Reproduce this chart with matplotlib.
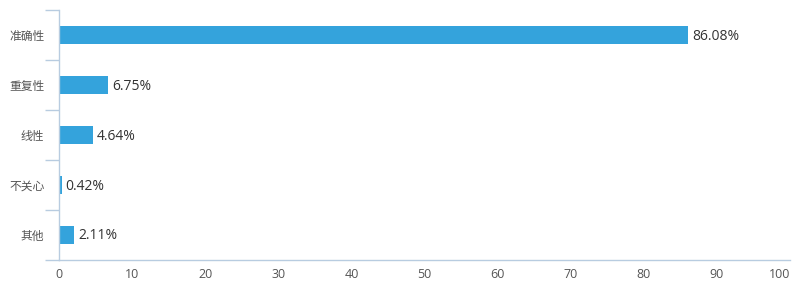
import matplotlib
matplotlib.use("Agg")
import matplotlib.pyplot as plt
import numpy as np

plt.rcParams["font.family"] = ["Noto Sans CJK SC", "DejaVu Sans"]

categories = ["准确性", "重复性", "线性", "不关心", "其他"]
values = [86.08, 6.75, 4.64, 0.42, 2.11]
x_ticks = [0, 10, 20, 30, 40, 50, 60, 70, 80, 90, 100]

bar_color = "#34a3dc"
axis_color = "#b8cce0"
num_font = ["Open Sans", "DejaVu Sans"]

fig = plt.figure(figsize=(8, 3), dpi=100)
ax = fig.add_axes([59 / 800, 40 / 300, 731 / 800, 250 / 300])

y = np.arange(len(categories))
ax.barh(y, values, height=0.36, color=bar_color)
for yi, v in zip(y, values):
    ax.text(v + 0.5, yi + 0.02, f"{v:.2f}%", va="center", ha="left",
            fontsize=10, color="#333333", family=num_font)

ax.set_xlim(0, 100)
ax.set_ylim(len(categories) - 0.5, -0.5)
ax.set_xticks(x_ticks)
labels = ax.set_xticklabels([str(t) for t in x_ticks], fontsize=9, color="#555555", family=num_font)
labels[-1].set_horizontalalignment("right")
ax.tick_params(axis="x", length=0, pad=6)

ax.set_yticks(y)
ax.set_yticklabels(categories, fontsize=8.5, color="#555555")
ax.tick_params(axis="y", which="major", length=0, pad=10.5)
ax.set_yticks(np.arange(-0.5, len(categories)), minor=True)
ax.tick_params(axis="y", which="minor", length=10, color=axis_color, width=1)

for side in ["top", "right"]:
    ax.spines[side].set_visible(False)
for side in ["left", "bottom"]:
    ax.spines[side].set_color(axis_color)
    ax.spines[side].set_linewidth(1)

fig.savefig("out.png", dpi=100)
